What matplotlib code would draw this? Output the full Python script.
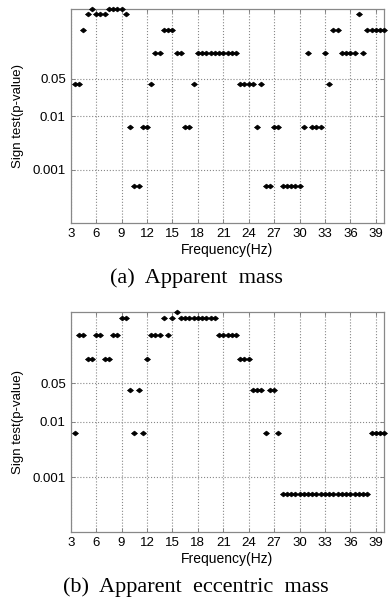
import numpy as np
import matplotlib
matplotlib.use('Agg')
import matplotlib.pyplot as plt

# frequencies 3.5 .. 40 Hz in 0.5 Hz steps (74 points)
freq = [3.5, 4.0, 4.5, 5.0, 5.5, 6.0, 6.5, 7.0, 7.5, 8.0, 8.5, 9.0, 9.5, 10.0,
        10.5, 11.0, 11.5, 12.0, 12.5, 13.0, 13.5, 14.0, 14.5, 15.0, 15.5, 16.0,
        16.5, 17.0, 17.5, 18.0, 18.5, 19.0, 19.5, 20.0, 20.5, 21.0, 21.5, 22.0,
        22.5, 23.0, 23.5, 24.0, 24.5, 25.0, 25.5, 26.0, 26.5, 27.0, 27.5, 28.0,
        28.5, 29.0, 29.5, 30.0, 30.5, 31.0, 31.5, 32.0, 32.5, 33.0, 33.5, 34.0,
        34.5, 35.0, 35.5, 36.0, 36.5, 37.0, 37.5, 38.0, 38.5, 39.0, 39.5, 40.0]

# (a) apparent mass
p_mass = [0.039, 0.039, 0.4, 0.8, 1.0, 0.8, 0.8, 0.8, 1.0, 1.0, 1.0, 1.0, 0.8, 0.0063,
          0.0005, 0.0005, 0.0063, 0.0063, 0.039, 0.15, 0.15, 0.4, 0.4, 0.4, 0.15, 0.15,
          0.0063, 0.0063, 0.039, 0.15, 0.15, 0.15, 0.15, 0.15, 0.15, 0.15, 0.15, 0.15,
          0.15, 0.039, 0.039, 0.039, 0.039, 0.0063, 0.039, 0.0005, 0.0005, 0.0063, 0.0063, 0.0005,
          0.0005, 0.0005, 0.0005, 0.0005, 0.0063, 0.15, 0.0063, 0.0063, 0.0063, 0.15, 0.039, 0.4,
          0.4, 0.15, 0.15, 0.15, 0.15, 0.8, 0.15, 0.4, 0.4, 0.4, 0.4, 0.4]

# (b) apparent eccentric mass
p_ecc = [0.0062, 0.38, 0.38, 0.14, 0.14, 0.38, 0.38, 0.14, 0.14, 0.38, 0.38, 0.76, 0.76, 0.038,
         0.0062, 0.038, 0.0062, 0.14, 0.38, 0.38, 0.38, 0.76, 0.38, 0.76, 1.0, 0.76,
         0.76, 0.76, 0.76, 0.76, 0.76, 0.76, 0.76, 0.76, 0.38, 0.38, 0.38, 0.38,
         0.38, 0.14, 0.14, 0.14, 0.038, 0.038, 0.038, 0.0062, 0.038, 0.038, 0.0062, 0.0005,
         0.0005, 0.0005, 0.0005, 0.0005, 0.0005, 0.0005, 0.0005, 0.0005, 0.0005, 0.0005, 0.0005, 0.0005,
         0.0005, 0.0005, 0.0005, 0.0005, 0.0005, 0.0005, 0.0005, 0.0005, 0.0062, 0.0062, 0.0062, 0.0062]

captions = ['(a)  Apparent  mass', '(b)  Apparent  eccentric  mass']
yticks = [0.001, 0.01, 0.05]
ytick_labels = ['0.001', '0.01', '0.05']
xticks = np.arange(3, 40, 3)

W, H = 388, 603
fig = plt.figure(figsize=(W / 100, H / 100), dpi=100)

def px_axes(left, top, right, bottom):
    return fig.add_axes([left / W, 1 - bottom / H, (right - left) / W, (bottom - top) / H])

sans = 'Liberation Sans'
fs = 9.5
# slightly flattened diamond, like the matlab markers
diamond = [(-1, 0), (0, 0.8), (1, 0), (0, -0.8), (-1, 0)]

panels = [(p_mass, (70.7, 9, 384.3, 223.3), 278),
          (p_ecc, (70.7, 311.7, 384.3, 532.3), 587)]

for (pv, box, cap_y), cap in zip(panels, captions):
    ax = px_axes(*box)
    ax.plot(freq, pv, linestyle='none', marker=diamond, markersize=4.3,
            color='black', markeredgewidth=0.5, clip_on=False, zorder=3)
    ax.set_yscale('log')
    ax.set_xlim(3, 40)
    ax.set_ylim(1e-4, 1)
    ax.set_xticks(xticks)
    ax.set_xticklabels([str(t) for t in xticks], family=sans, fontsize=fs)
    ax.set_yticks(yticks)
    ax.set_yticklabels(ytick_labels, family=sans, fontsize=fs)
    ax.minorticks_off()
    ax.tick_params(direction='in', top=True, right=True, length=3, width=0.6,
                   color='#777777', pad=3.5)
    ax.grid(True, linestyle=':', color='#888888', linewidth=0.8)
    for s in ax.spines.values():
        s.set_color('#888888')
        s.set_linewidth(0.9)
    ax.set_xlabel('Frequency(Hz)', family=sans, fontsize=10)
    ax.set_ylabel('Sign test(p-value)', family=sans, fontsize=fs)
    ax.xaxis.set_label_coords(0.5, -0.09)
    ax.yaxis.set_label_coords(-0.148, 0.5)
    fig.text(196 / W, 1 - cap_y / H, cap, ha='center', va='center',
             family='Liberation Serif', fontsize=16)

fig.savefig('out.png', dpi=100)
